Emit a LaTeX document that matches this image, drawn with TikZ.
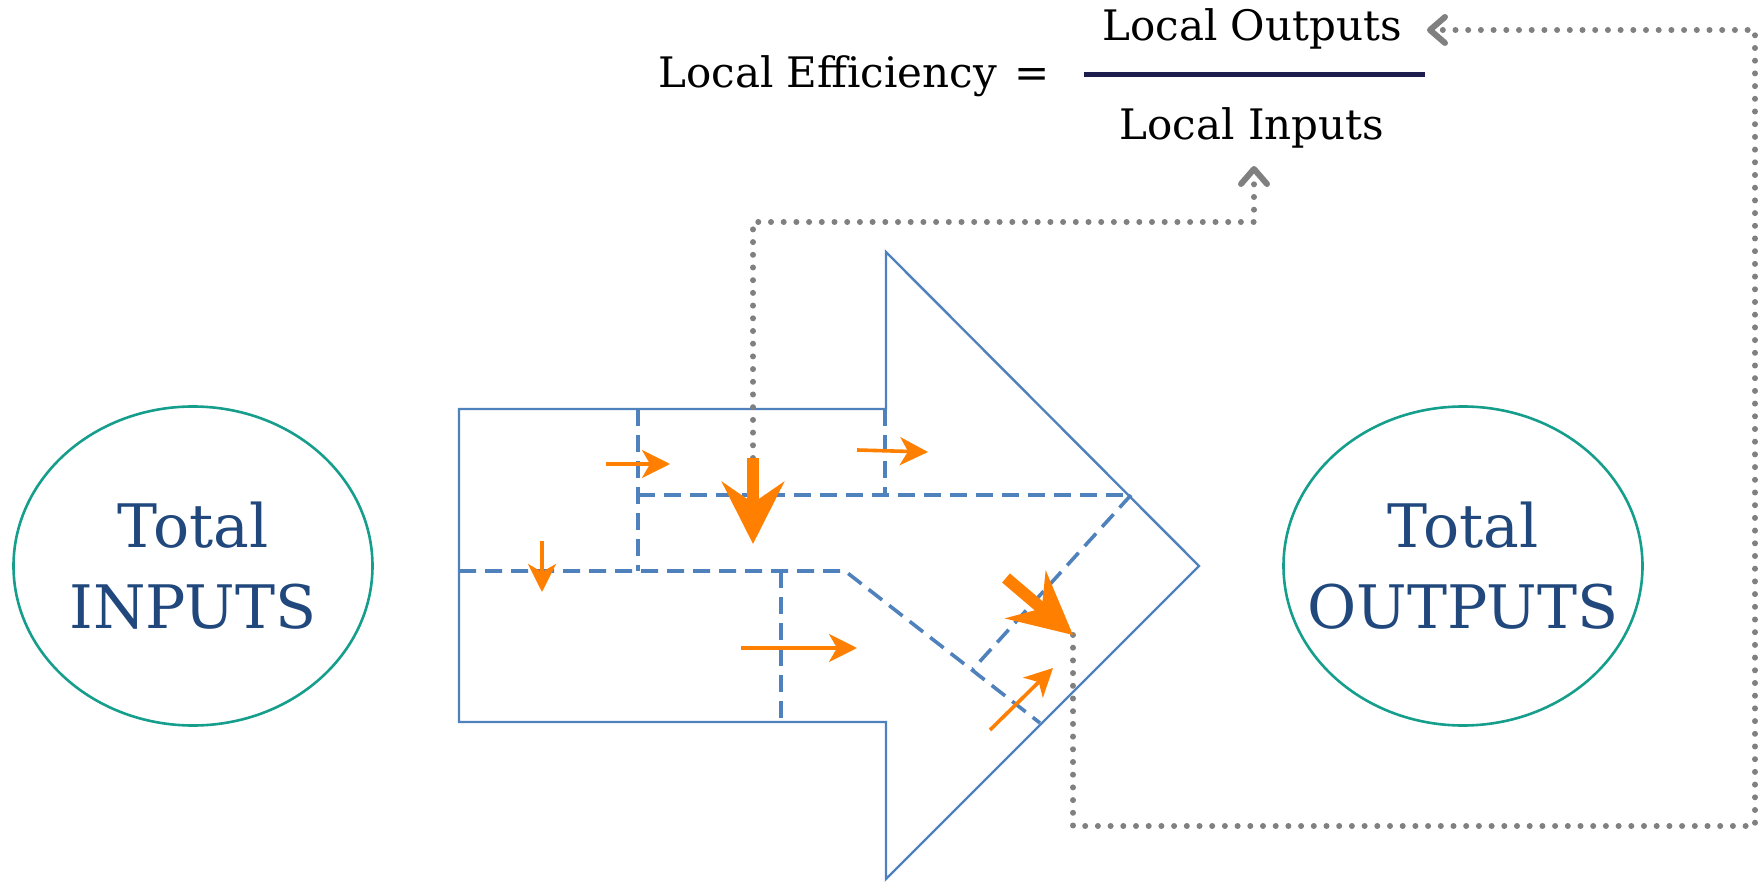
\documentclass[tikz,border=0pt]{standalone}
\usepackage{fontspec}
\setmainfont{DejaVu Serif}
\usetikzlibrary{arrows.meta,shapes.geometric}

\definecolor{flowblue}{RGB}{79,129,189}
\definecolor{flowteal}{RGB}{22,158,140}
\definecolor{labelblue}{RGB}{33,72,125}
\definecolor{flowgray}{RGB}{128,128,128}
\definecolor{barnavy}{RGB}{30,30,78}
\definecolor{floworange}{RGB}{255,127,0}

\newcommand\formulafont{\fontsize{21}{25}\selectfont}
\newcommand\ringfont{\fontsize{30}{40.5}\selectfont}

\begin{document}
\begin{tikzpicture}[x=0.5pt,y=-0.5pt,
  outline/.style={draw=flowblue,line width=1.2pt,line join=miter},
  zone/.style={draw=flowblue,line width=1.8pt,dash pattern=on 8.5pt off 4.5pt},
  ring/.style={ellipse,draw=flowteal,line width=1.3pt,minimum width=179.5pt,minimum height=159.5pt,inner sep=0pt},
  ringtext/.style={align=center,text=labelblue,font=\ringfont,inner sep=0pt},
  formula/.style={font=\formulafont,text=black,inner sep=0pt},
  fracbar/.style={draw=barnavy,line width=2.5pt},
  feedback/.style={draw=flowgray,line width=3pt,line cap=round,dash pattern=on 0pt off 6.35pt,
    -{Straight Barb[round,length=7.5pt,width=13pt]}},
  smallflow/.style={draw=floworange,line width=1.8pt,-{Stealth[length=14pt,width=14pt,inset=4pt]}},
  bigflow/.style={draw=floworange,line width=6pt,-{Stealth[length=31pt,width=31pt,inset=10.5pt]}},
]
\useasboundingbox (0,0) rectangle (1758,882);

% input and output pools
\node[ring] (totIn) at (193,566) {};
\node[ringtext] (totInText) at (totIn.center) {Total\\INPUTS};
\node[ring] (totOut) at (1463,566) {};
\node[ringtext] (totOutText) at (totOut.center) {Total\\OUTPUTS};

% the system as a big block arrow
\draw[outline] (459,409) -- (886,409) -- (886,252) -- (1199,566) -- (886,879)
  -- (886,722) -- (459,722) -- cycle;

% internal compartments
\draw[zone] (638,409) -- (638,571);
\draw[zone] (459,571) -- (845,571) -- (1040,723);
\draw[zone] (638,495) -- (1131,495);
\draw[zone] (885,409) -- (885,495);
\draw[zone] (781,571) -- (781,722);
\draw[zone] (1131,495) -- (973,669);

% efficiency formula
\node[formula,anchor=base west] (effLabel) at (658,88) {Local Efficiency};
\node[formula,anchor=base] (eqSign) at (1032,88) {=};
\node[formula,anchor=base] (outLabel) at (1252,41) {Local Outputs};
\node[formula,anchor=base] (inLabel) at (1252,140) {Local Inputs};
\coordinate (barL) at (1084,75);
\coordinate (barR) at (1425,75);
\draw[fracbar] (barL) -- (barR);

% measurement points and feedback routes
\coordinate (pullTail) at (753,458);
\coordinate (pullTip) at (753,544);
\coordinate (pushTail) at (1006,578);
\coordinate (pushTip) at (1073,635);
\coordinate (inTurn) at (1254,222);
\coordinate (inTip) at (1254,166);
\coordinate (loopCorner) at (1755,826);
\coordinate (outTip) at (1427,30);

\draw[feedback] (pullTail) |- (inTurn) -- (inTip);
\draw[feedback] (pushTip) |- (loopCorner) |- (outTip);

% flows between compartments
\draw[smallflow] (606,464) -- (670,464);
\draw[smallflow] (857,450) -- (928,452);
\draw[smallflow] (542,541) -- (542,592);
\draw[smallflow] (741,648) -- (857,648);
\draw[smallflow] (990,730) -- (1053,668);
\draw[bigflow] (pullTail) -- (pullTip);
\draw[bigflow] (pushTail) -- (pushTip);
\end{tikzpicture}
\end{document}
